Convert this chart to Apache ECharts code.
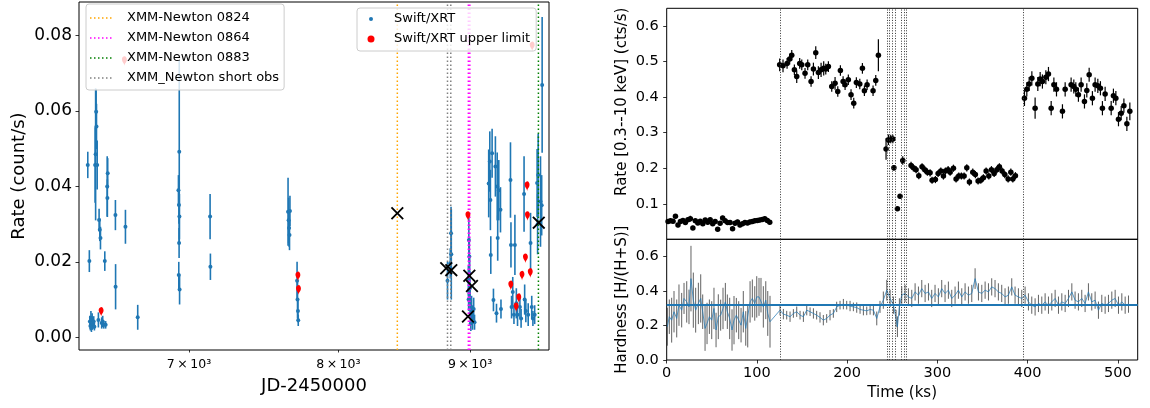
<!DOCTYPE html>
<html><head><meta charset="utf-8">
<script src="https://cdn.jsdelivr.net/npm/echarts@6/dist/echarts.min.js"></script>
<style>html,body{margin:0;padding:0;background:#fff}#c{width:1150px;height:408px}</style>
</head><body><div id="c"></div>
<script>
// ---------- LEFT PANEL DATA ----------
const leftXRange = [6344, 9658];
const leftYRange = [-0.00337, 0.0889];
const leftXTicks = [7000, 8000, 9000];
const leftYTicks = [0, 0.02, 0.04, 0.06, 0.08];
// [JD-2450000, rate, error]
const swiftXRT = [
[6394,0.0457,0.0035],[6403,0.0202,0.0029],[6406,0.0042,0.0015],[6409,0.0030,0.0012],[6412,0.0052,0.0018],
[6415,0.0024,0.0010],[6419,0.0046,0.0018],[6423,0.0035,0.0012],[6428,0.0042,0.0014],[6432,0.0028,0.0010],
[6436,0.0457,0.0100],[6439,0.0485,0.0175],[6442,0.0598,0.0060],[6444,0.0559,0.0060],[6448,0.0457,0.0065],
[6455,0.0046,0.0020],[6459,0.0311,0.0030],[6463,0.0285,0.0030],[6467,0.0263,0.0030],[6474,0.0038,0.0015],
[6480,0.0042,0.0015],[6486,0.0033,0.0010],[6492,0.0202,0.0026],[6497,0.0033,0.0010],[6506,0.0400,0.0080],
[6507,0.0369,0.0050],[6509,0.0435,0.0040],[6554,0.0324,0.0040],[6555,0.0134,0.0060],[6613,0.0293,0.0045],
[6686,0.0053,0.0033],[6934,0.0390,0.0040],[6936,0.0165,0.0035],[6937,0.0351,0.0050],[6938,0.0250,0.0040],
[6939,0.0492,0.0243],[6940,0.0320,0.0060],[6941,0.0127,0.0040],[7133,0.0320,0.0060],[7135,0.0187,0.0035],
[7648,0.0333,0.0090],[7652,0.0310,0.0060],[7655,0.0290,0.0050],[7658,0.0271,0.0040],[7661,0.0335,0.0040],
[7710,0.0150,0.0050],[7713,0.0100,0.0050],[7716,0.0070,0.0030],[7718,0.0045,0.0015],
[8820,0.0150,0.0050],[8842,0.0196,0.0040],[8848,0.0276,0.0070],[8850,0.0220,0.0120],
[8986,0.0150,0.0040],[8988,0.0100,0.0030],[8990,0.0258,0.0060],[8994,0.0214,0.0050],[8996,0.0170,0.0040],
[8998,0.0130,0.0040],[9000,0.0099,0.0030],[9003,0.0064,0.0030],[9006,0.0037,0.0020],[9012,0.0080,0.0030],
[9020,0.0050,0.0030],[9029,0.0075,0.0030],[9036,0.0040,0.0020],
[9151,0.0408,0.0090],[9160,0.0466,0.0080],[9165,0.0364,0.0080],[9168,0.0218,0.0050],[9179,0.0488,0.0065],
[9190,0.0099,0.0030],[9206,0.0453,0.0080],[9215,0.0064,0.0025],[9221,0.0400,0.0090],[9225,0.0263,0.0060],
[9234,0.0390,0.0080],[9248,0.0338,0.0060],[9252,0.0075,0.0025],[9331,0.0417,0.0100],[9335,0.0245,0.0060],
[9340,0.0080,0.0030],[9350,0.0120,0.0040],[9360,0.0060,0.0025],[9368,0.0245,0.0080],[9380,0.0090,0.0040],
[9390,0.0060,0.0030],[9410,0.0080,0.0030],[9420,0.0050,0.0025],[9445,0.0380,0.0100],[9450,0.0100,0.0040],
[9460,0.0070,0.0030],[9480,0.0060,0.0030],[9500,0.0250,0.0080],[9510,0.0080,0.0030],[9520,0.0050,0.0020],
[9535,0.0060,0.0025],[9556,0.0409,0.0090],[9560,0.0300,0.0080],[9565,0.0430,0.0110],[9585,0.0360,0.0120],
[9595,0.0350,0.0080],[9599,0.0669,0.0180]
];
const swiftUpperLimit = [
[6471,0.0060],[6607,0.0725],[7716,0.0154],[7720,0.0118],[8983,0.0314],[9334,0.0130],[9379,0.0072],
[9401,0.0096],[9428,0.0156],[9457,0.0202],[9471,0.0393],[9474,0.0314],[9498,0.0163],[9514,0.0764]
];
const xmmPoints = [[8433,0.0329],[8810,0.0183],[8850,0.0178],[8994,0.0163],[9015,0.0136],[8983,0.0055],[9570,0.0304]];
const xmm0824 = [8433];
const xmm0864 = [8986, 8998];
const xmm0883 = [9567];
const xmmShort = [8820, 8846];

// ---------- RIGHT PANEL DATA ----------
const timeTicks = [0, 100, 200, 300, 400, 500];
const rateTicks = [0.1, 0.2, 0.3, 0.4, 0.5, 0.6];
const hardTicks = [0, 0.2, 0.4, 0.6];
const obsMarks = [125.3, 244.6, 246.8, 249.8, 253.4, 260.1, 263.1, 265.3, 395.3];
const hardnessMean = 0.32;
// [time ks, rate, error]
const rateCurve = [
[1.5,0.050,0.006],[4.2,0.052,0.006],[7.0,0.051,0.006],[9.7,0.065,0.006],[12.5,0.040,0.006],[15.2,0.050,0.006],
[18.0,0.053,0.006],[20.7,0.047,0.006],[23.5,0.055,0.006],[26.2,0.058,0.008],[29.0,0.032,0.006],[31.7,0.052,0.006],
[34.5,0.046,0.006],[37.2,0.051,0.006],[40.0,0.044,0.006],[42.7,0.054,0.006],[45.5,0.048,0.006],[48.2,0.055,0.006],
[51.0,0.044,0.006],[53.7,0.050,0.006],[56.5,0.028,0.006],[59.2,0.045,0.006],[62.0,0.060,0.006],[64.7,0.052,0.006],
[67.5,0.047,0.006],[70.2,0.047,0.006],[73.0,0.030,0.006],[75.7,0.045,0.006],[78.5,0.049,0.006],[81.2,0.040,0.006],
[84.0,0.044,0.006],[86.7,0.047,0.006],[89.5,0.046,0.006],[92.2,0.049,0.006],[95.0,0.050,0.006],[97.7,0.052,0.006],
[100.5,0.053,0.006],[103.2,0.054,0.006],[106.0,0.056,0.006],[108.7,0.058,0.006],[111.5,0.053,0.006],[114.2,0.048,0.006],
[125.2,0.491,0.018],[128.9,0.488,0.018],[133.4,0.495,0.015],[136.3,0.507,0.015],[138.6,0.518,0.015],[141.5,0.477,0.015],
[144.1,0.458,0.018],[147.4,0.495,0.015],[149.7,0.491,0.015],[153.3,0.467,0.015],[156.3,0.491,0.015],[160.0,0.444,0.015],
[162.6,0.479,0.018],[165.2,0.525,0.018],[168.1,0.469,0.018],[171.1,0.477,0.020],[174.0,0.481,0.020],[176.3,0.479,0.015],
[179.2,0.486,0.015],[182.9,0.430,0.015],[186.6,0.439,0.018],[189.6,0.416,0.015],[192.5,0.475,0.015],[195.5,0.444,0.015],
[197.7,0.435,0.015],[201.3,0.449,0.015],[204.3,0.407,0.015],[207.3,0.383,0.015],[210.2,0.441,0.015],[214.0,0.437,0.015],
[216.9,0.481,0.015],[219.1,0.418,0.015],[222.1,0.435,0.015],[228.7,0.418,0.015],[231.7,0.447,0.015],[234.6,0.518,0.045],
[243.1,0.254,0.030],[245.7,0.280,0.015],[248.3,0.282,0.012],[250.6,0.282,0.012],[251.8,0.201,0.008],[255.7,0.086,0.006],
[258.6,0.121,0.006],[261.6,0.222,0.012],
[270.8,0.208,0.010],[273.4,0.201,0.010],[276.4,0.196,0.010],[279.4,0.179,0.010],[283.0,0.204,0.010],[286.0,0.196,0.010],
[288.9,0.189,0.010],[291.9,0.187,0.010],[294.1,0.166,0.010],[297.8,0.168,0.010],[300.8,0.185,0.010],[303.8,0.192,0.010],
[306.7,0.178,0.010],[308.9,0.192,0.010],[311.9,0.196,0.010],[314.1,0.189,0.010],[317.8,0.200,0.010],[320.7,0.170,0.010],
[323.7,0.178,0.010],[326.6,0.178,0.010],[329.6,0.178,0.010],[332.6,0.201,0.010],[335.5,0.161,0.010],[339.2,0.189,0.010],
[342.1,0.182,0.010],[345.1,0.164,0.010],[348.1,0.166,0.010],[351.0,0.173,0.010],[354.0,0.192,0.010],[357.0,0.178,0.010],
[359.9,0.196,0.010],[362.9,0.185,0.010],[365.9,0.196,0.010],[368.7,0.204,0.010],[371.7,0.192,0.010],[374.7,0.182,0.010],
[378.4,0.170,0.010],[381.4,0.189,0.010],[383.6,0.170,0.010],[386.5,0.179,0.010],
[396.5,0.397,0.022],[399.1,0.422,0.020],[401.7,0.437,0.020],[404.7,0.453,0.020],[408.3,0.369,0.030],[411.3,0.437,0.020],
[413.9,0.451,0.020],[416.4,0.444,0.020],[420.2,0.456,0.020],[423.1,0.465,0.020],[426.1,0.369,0.020],[429.1,0.435,0.020],
[432.0,0.422,0.020],[438.6,0.360,0.020],[441.6,0.422,0.020],[448.2,0.435,0.020],[451.2,0.430,0.020],[453.4,0.422,0.020],
[456.3,0.407,0.020],[459.3,0.435,0.020],[463.0,0.388,0.020],[465.6,0.419,0.020],[468.2,0.463,0.020],[471.8,0.397,0.020],
[474.8,0.435,0.020],[477.8,0.432,0.020],[480.7,0.425,0.020],[482.9,0.369,0.020],[485.9,0.409,0.020],[492.6,0.369,0.020],
[495.1,0.404,0.020],[497.8,0.397,0.020],[500.7,0.338,0.020],[503.7,0.355,0.020],[506.7,0.376,0.020],[510.0,0.325,0.020],
[513.3,0.360,0.025]
];
// [time ks, hardness, error]
const hardness = [
[0.7,0.193,0.11],[2.9,0.251,0.10],[5.5,0.231,0.13],[8.1,0.280,0.12],[11.1,0.241,0.11],[13.6,0.318,0.12],[16.6,0.289,0.10],
[19.2,0.357,0.09],[22.2,0.337,0.12],[24.7,0.308,0.10],[26.9,0.472,0.19],[29.5,0.347,0.16],[32.1,0.289,0.13],[35.1,0.328,0.12],
[37.7,0.357,0.14],[39.9,0.280,0.10],[42.5,0.183,0.13],[44.7,0.212,0.12],[47.3,0.251,0.10],[49.9,0.231,0.11],[52.4,0.299,0.12],
[54.7,0.174,0.10],[57.2,0.251,0.13],[59.8,0.260,0.09],[62.4,0.299,0.12],[65.0,0.337,0.11],[67.2,0.280,0.10],[69.8,0.241,0.12],
[72.4,0.174,0.12],[74.6,0.231,0.14],[77.2,0.260,0.10],[79.8,0.231,0.11],[82.4,0.202,0.10],[84.9,0.280,0.12],[87.6,0.183,0.10],
[89.8,0.193,0.12],[92.4,0.337,0.12],[94.9,0.357,0.11],[97.6,0.328,0.10],[99.8,0.366,0.12],[102.3,0.366,0.11],[104.5,0.376,0.10],
[107.1,0.308,0.12],[109.8,0.347,0.11],[112.0,0.270,0.13],[114.5,0.222,0.15],
[125.6,0.289,0.03],[129.3,0.266,0.03],[133.0,0.260,0.025],[136.7,0.251,0.03],[140.4,0.270,0.025],[144.1,0.280,0.03],
[147.8,0.260,0.025],[151.5,0.251,0.03],[155.2,0.289,0.03],[158.9,0.280,0.025],[162.6,0.270,0.03],[166.2,0.260,0.025],
[169.9,0.247,0.03],[173.6,0.231,0.03],[177.3,0.241,0.025],[181.0,0.260,0.03],[184.7,0.270,0.025],[188.4,0.308,0.03],
[192.1,0.318,0.025],[195.8,0.324,0.03],[199.5,0.318,0.025],[203.2,0.313,0.03],[206.9,0.308,0.025],[210.6,0.304,0.03],
[214.3,0.293,0.025],[218.0,0.289,0.03],[221.7,0.285,0.025],[225.4,0.293,0.03],[229.1,0.289,0.03],[232.8,0.241,0.04],
[236.4,0.308,0.035],[240.1,0.347,0.05],[243.9,0.405,0.06],[247.6,0.357,0.05],[251.3,0.318,0.05],[254.2,0.241,0.05],
[255.7,0.193,0.06],[257.9,0.308,0.05],[260.5,0.376,0.05],[264.2,0.386,0.05],[267.9,0.366,0.05],[271.6,0.357,0.05],
[275.3,0.395,0.05],[279.0,0.376,0.05],[282.7,0.414,0.05],[286.4,0.386,0.05],[290.1,0.395,0.05],[293.7,0.357,0.05],
[297.4,0.386,0.05],[301.1,0.366,0.05],[304.8,0.414,0.05],[308.5,0.386,0.05],[312.2,0.405,0.05],[315.9,0.357,0.05],
[319.6,0.376,0.05],[323.3,0.405,0.05],[327.0,0.366,0.05],[330.7,0.395,0.05],[334.4,0.376,0.05],[338.1,0.386,0.05],
[341.8,0.472,0.06],[345.5,0.395,0.05],[349.2,0.386,0.05],[352.9,0.405,0.05],[356.6,0.395,0.05],[360.2,0.424,0.05],
[363.9,0.414,0.05],[367.6,0.395,0.05],[371.3,0.386,0.05],[375.0,0.366,0.05],[378.7,0.376,0.05],[382.4,0.424,0.05],
[386.1,0.376,0.05],[389.8,0.366,0.05],[393.5,0.357,0.05],[397.2,0.376,0.05],[400.9,0.337,0.05],[404.6,0.318,0.05],
[408.3,0.308,0.05],[412.0,0.328,0.05],[415.7,0.318,0.05],[419.4,0.337,0.05],[423.1,0.318,0.05],[426.8,0.337,0.05],
[430.5,0.357,0.05],[434.2,0.318,0.05],[437.9,0.337,0.05],[441.6,0.328,0.05],[445.3,0.357,0.05],[449.0,0.395,0.05],
[452.6,0.347,0.05],[456.3,0.337,0.05],[460.0,0.357,0.05],[463.7,0.328,0.05],[467.4,0.395,0.05],[471.1,0.337,0.05],
[474.8,0.347,0.05],[478.5,0.289,0.05],[482.2,0.328,0.05],[485.9,0.318,0.05],[489.6,0.328,0.05],[493.3,0.347,0.05],
[497.0,0.357,0.05],[500.7,0.318,0.05],[504.4,0.337,0.05],[508.1,0.318,0.05],[511.8,0.324,0.05]
];

// ---------- CHART ----------
const F = 'DejaVu Sans';
const BLUE = '#1f77b4';
function errBars(color, width) {
  return function (params, api) {
    const x = api.value(0), y = api.value(1), e = api.value(2);
    const a = api.coord([x, y - e]), b = api.coord([x, y + e]);
    return {type: 'line', shape: {x1: a[0], y1: a[1], x2: b[0], y2: b[1]}, style: {stroke: color, lineWidth: width}};
  };
}
const dotted = [1.5, 2.5];
// one line series per vertical line (same name -> one legend entry)
function vlines(name, color, xs) {
  return xs.map(v => ({
    name, type: 'line', xAxisIndex: 0, yAxisIndex: 0, symbol: 'none', showSymbol: false, silent: true,
    lineStyle: {color, width: 1.5, type: dotted}, itemStyle: {color}, z: 4,
    data: [[v, leftYRange[0]], [v, leftYRange[1]]]
  }));
}
function obsLines(xi, yi) {
  return {
    type: 'line', xAxisIndex: xi, yAxisIndex: yi, data: [], symbol: 'none', z: 1,
    markLine: {silent: true, symbol: ['none', 'none'], label: {show: false},
      lineStyle: {color: '#333', width: 1, type: [1, 1.6], opacity: 1},
      emphasis: {disabled: true},
      data: obsMarks.map(v => ({xAxis: v}))}
  };
}
const noLine = {show: false, onZero: false};
const tickStyle = {show: true, inside: false, length: 3.5, lineStyle: {color: '#000', width: 0.8}};
const X_PATH = 'path://M0,1.2L1.2,0L6,4.8L10.8,0L12,1.2L7.2,6L12,10.8L10.8,12L6,7.2L1.2,12L0,10.8L4.8,6Z';
const ICON_BLUE = 'path://M0,0M14,14M5,7a2,2 0 1,0 4,0a2,2 0 1,0 -4,0Z';
const ICON_RED = 'path://M0,0M14,14M3.5,7a3.5,3.5 0 1,0 7,0a3.5,3.5 0 1,0 -7,0Z';
const ICON_DOTS = 'path://M0,0M23,14M0,6.25h1.5v1.5h-1.5zM4,6.25h1.5v1.5h-1.5zM8,6.25h1.5v1.5h-1.5zM12,6.25h1.5v1.5h-1.5zM16,6.25h1.5v1.5h-1.5zM20,6.25h1.5v1.5h-1.5z';

const option = {
  animation: false,
  backgroundColor: '#fff',
  textStyle: {fontFamily: F},
  grid: [
    {left: 79, top: 2, width: 470, height: 348, show: true, borderColor: '#000', borderWidth: 1, backgroundColor: 'transparent', containLabel: false, outerBoundsMode: 'none'},
    {left: 666.7, top: 8.3, width: 471, height: 231, show: true, borderColor: '#000', borderWidth: 1, backgroundColor: 'transparent', containLabel: false, outerBoundsMode: 'none'},
    {left: 666.7, top: 239.3, width: 471, height: 120.7, show: true, borderColor: '#000', borderWidth: 1, backgroundColor: 'transparent', containLabel: false, outerBoundsMode: 'none'}
  ],
  xAxis: [
    {gridIndex: 0, type: 'log', logBase: 10, min: leftXRange[0], max: leftXRange[1], position: 'bottom',
      name: 'JD-2450000', nameLocation: 'middle', nameGap: 27,
      nameTextStyle: {fontFamily: F, fontSize: 18, color: '#000'},
      axisLine: noLine, splitLine: {show: false}, minorTick: {show: false},
      axisTick: Object.assign({}, tickStyle, {length: 2.5, customValues: leftXTicks}),
      axisLabel: {customValues: leftXTicks, fontFamily: F, fontSize: 12.5, color: '#000', margin: 8,
        formatter: v => Math.round(v / 1000) + '\u2009×\u200910³'}},
    {gridIndex: 1, type: 'value', min: 0, max: 522, show: false, axisLine: noLine},
    {gridIndex: 2, type: 'value', min: 0, max: 522, position: 'bottom',
      name: 'Time (ks)', nameLocation: 'middle', nameGap: 26,
      nameTextStyle: {fontFamily: F, fontSize: 15, color: '#000'},
      axisLine: noLine, splitLine: {show: false},
      axisTick: Object.assign({}, tickStyle, {customValues: timeTicks}),
      axisLabel: {customValues: timeTicks, fontFamily: F, fontSize: 14.5, color: '#000', margin: 6}}
  ],
  yAxis: [
    {gridIndex: 0, type: 'value', min: leftYRange[0], max: leftYRange[1], position: 'left',
      name: 'Rate (count/s)', nameLocation: 'middle', nameGap: 51,
      nameTextStyle: {fontFamily: F, fontSize: 18, color: '#000'},
      axisLine: noLine, splitLine: {show: false},
      axisTick: Object.assign({}, tickStyle, {customValues: leftYTicks}),
      axisLabel: {customValues: leftYTicks, fontFamily: F, fontSize: 17, color: '#000', margin: 7,
        formatter: v => v.toFixed(2)}},
    {gridIndex: 1, type: 'value', min: 0, max: 0.65, position: 'left',
      name: 'Rate [0.3--10 keV] (cts/s)', nameLocation: 'middle', nameGap: 37,
      nameTextStyle: {fontFamily: F, fontSize: 15, color: '#000', padding: [0, 0, 0, 44]},
      axisLine: noLine, splitLine: {show: false},
      axisTick: Object.assign({}, tickStyle, {customValues: rateTicks}),
      axisLabel: {customValues: rateTicks, fontFamily: F, fontSize: 14.5, color: '#000', margin: 8,
        formatter: v => v.toFixed(1)}},
    {gridIndex: 2, type: 'value', min: 0, max: 0.7, position: 'left',
      name: 'Hardness [H/(H+S)]', nameLocation: 'middle', nameGap: 37,
      nameTextStyle: {fontFamily: F, fontSize: 15, color: '#000'},
      axisLine: noLine, splitLine: {show: false},
      axisTick: Object.assign({}, tickStyle, {customValues: hardTicks}),
      axisLabel: {customValues: hardTicks, fontFamily: F, fontSize: 14.5, color: '#000', margin: 8,
        formatter: v => v.toFixed(1)}}
  ],
  legend: [
    {data: ['XMM-Newton 0824', 'XMM-Newton 0864', 'XMM-Newton 0883', 'XMM_Newton short obs'].map(n => ({name: n, icon: ICON_DOTS})),
      orient: 'vertical', left: 86, top: 4, itemWidth: 23, itemHeight: 14, itemGap: 6,
      padding: [7, 5, 5, 4], selectedMode: false,
      backgroundColor: 'rgba(255,255,255,0.8)', borderColor: '#cccccc', borderWidth: 1, borderRadius: 3,
      textStyle: {fontFamily: F, fontSize: 13, color: '#000', padding: [0, 0, 0, 9]}, z: 10},
    {data: [{name: 'Swift/XRT', icon: ICON_BLUE}, {name: 'Swift/XRT upper limit', icon: ICON_RED}],
      orient: 'vertical', left: 357, top: 8, itemWidth: 24, itemHeight: 14, itemGap: 6,
      padding: [4, 6, 5, 7], selectedMode: false,
      backgroundColor: 'rgba(255,255,255,0.8)', borderColor: '#cccccc', borderWidth: 1, borderRadius: 3,
      textStyle: {fontFamily: F, fontSize: 13, color: '#000', padding: [0, 0, 0, 6]}, z: 10}
  ],
  series: [
    // left panel
    {type: 'custom', xAxisIndex: 0, yAxisIndex: 0, renderItem: errBars(BLUE, 1.6), data: swiftXRT,
      encode: {x: 0, y: 1}, silent: true, z: 2},
    {name: 'Swift/XRT', type: 'scatter', xAxisIndex: 0, yAxisIndex: 0, symbolSize: 4,
      itemStyle: {color: BLUE, opacity: 1}, data: swiftXRT.map(d => [d[0], d[1]]), z: 3, silent: true},
    ...vlines('XMM-Newton 0824', '#ffa500', xmm0824),
    ...vlines('XMM-Newton 0864', '#ff00ff', xmm0864),
    ...vlines('XMM-Newton 0883', '#008000', xmm0883),
    ...vlines('XMM_Newton short obs', '#808080', xmmShort),
    {name: 'Swift/XRT upper limit', type: 'scatter', xAxisIndex: 0, yAxisIndex: 0, symbol: 'pin',
      symbolSize: [8, 11], symbolOffset: [0, 2], itemStyle: {color: '#ff0000', opacity: 1},
      data: swiftUpperLimit, z: 5, silent: true},
    {type: 'scatter', xAxisIndex: 0, yAxisIndex: 0, symbol: X_PATH, symbolSize: 13,
      itemStyle: {color: '#000', opacity: 1}, data: xmmPoints, z: 6, silent: true},
    // right top
    obsLines(1, 1),
    {type: 'custom', xAxisIndex: 1, yAxisIndex: 1, renderItem: errBars('#000', 1.2), data: rateCurve,
      encode: {x: 0, y: 1}, silent: true, z: 2},
    {type: 'scatter', xAxisIndex: 1, yAxisIndex: 1, symbolSize: 5.5, itemStyle: {color: '#000', opacity: 1},
      data: rateCurve.map(d => [d[0], d[1]]), z: 3, silent: true},
    // right bottom
    obsLines(2, 2),
    {type: 'custom', xAxisIndex: 2, yAxisIndex: 2, renderItem: errBars('#3a3a3a', 0.8), data: hardness,
      encode: {x: 0, y: 1}, silent: true, z: 2},
    {type: 'line', xAxisIndex: 2, yAxisIndex: 2, showSymbol: false, symbol: 'none',
      lineStyle: {color: BLUE, width: 0.9, opacity: 0.8},
      data: hardness.map(d => [d[0], d[1]]), z: 3, silent: true,
      markLine: {silent: true, symbol: ['none', 'none'], label: {show: false},
        lineStyle: {color: BLUE, width: 2, type: 'solid', opacity: 1}, emphasis: {disabled: true},
        data: [{yAxis: hardnessMean}]}}
  ]
};
const chart = echarts.init(document.getElementById('c'));
chart.setOption(option);
</script>
</body></html>
